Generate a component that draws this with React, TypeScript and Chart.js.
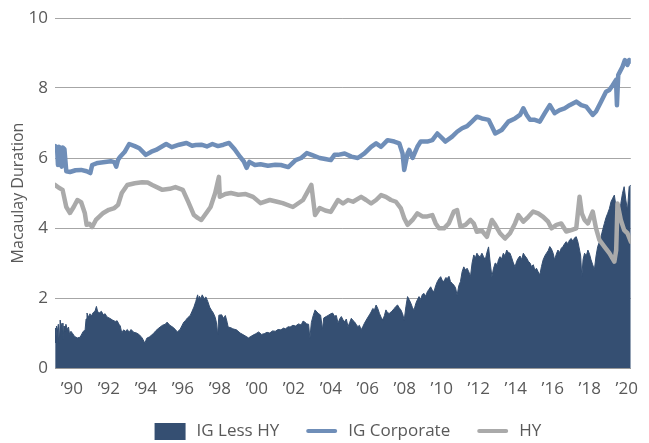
import React, { useEffect, useRef } from 'react';
import { Chart, registerables } from 'chart.js';

Chart.register(...registerables);

const SERIES_LABELS = ['IG Less HY', 'IG Corporate', 'HY'];
const X_TICKS = [1990, 1992, 1994, 1996, 1998, 2000, 2002, 2004, 2006, 2008, 2010, 2012, 2014, 2016, 2018, 2020];
const Y_TICKS = [0, 2, 4, 6, 8, 10];
const Y_TITLE = 'Macaulay Duration';

const igYears = [
  1989.1, 1989.2, 1989.25, 1989.3, 1989.4, 1989.45, 1989.5, 1989.6, 1989.7, 1989.9,
  1990.2, 1990.5, 1990.8, 1991.0, 1991.1, 1991.4, 1991.7, 1992.1, 1992.3, 1992.4,
  1992.5, 1992.6, 1992.85, 1993.1, 1993.4, 1993.65, 1994.0, 1994.3, 1994.55, 1995.1,
  1995.4, 1995.8, 1996.2, 1996.5, 1996.7, 1997.0, 1997.3, 1997.6, 1997.9, 1998.2,
  1998.5, 1998.8, 1999.1, 1999.3, 1999.45, 1999.6, 1999.9, 2000.2, 2000.6, 2001.0,
  2001.3, 2001.7, 2002.1, 2002.4, 2002.7, 2003.0, 2003.4, 2003.7, 2004.0, 2004.2,
  2004.39, 2004.75, 2005.11, 2005.46, 2005.82, 2006.18, 2006.45, 2006.72, 2007.07, 2007.43,
  2007.7, 2007.88, 2007.97, 2008.15, 2008.24, 2008.42, 2008.68, 2008.86, 2009.22, 2009.49,
  2009.76, 2010.03, 2010.2, 2010.56, 2010.83, 2011.1, 2011.37, 2011.63, 2011.9, 2012.17,
  2012.35, 2012.53, 2012.71, 2012.89, 2013.24, 2013.6, 2013.96, 2014.23, 2014.41, 2014.59,
  2014.77, 2015.03, 2015.3, 2015.57, 2015.84, 2016.1, 2016.37, 2016.64, 2016.91, 2017.27,
  2017.54, 2017.81, 2018.16, 2018.34, 2018.61, 2018.88, 2019.06, 2019.24, 2019.42, 2019.47,
  2019.54, 2019.77, 2019.9, 2020.04, 2020.13, 2020.22,
];
const igValues = [
  6.34, 6.30, 5.80, 6.32, 6.28, 5.75, 6.30, 6.25, 5.62, 5.60,
  5.65, 5.66, 5.62, 5.57, 5.80, 5.86, 5.88, 5.91, 5.88, 5.75,
  5.95, 6.03, 6.17, 6.40, 6.34, 6.28, 6.09, 6.18, 6.23, 6.40,
  6.31, 6.38, 6.43, 6.35, 6.37, 6.38, 6.33, 6.40, 6.34, 6.38,
  6.43, 6.25, 6.03, 5.90, 5.72, 5.89, 5.80, 5.82, 5.78, 5.81,
  5.80, 5.74, 5.94, 6.00, 6.14, 6.08, 6.00, 5.97, 5.94, 6.09,
  6.09, 6.13, 6.04, 6.00, 6.13, 6.32, 6.42, 6.32, 6.51, 6.47,
  6.42, 6.13, 5.66, 6.13, 6.23, 6.00, 6.32, 6.47, 6.47, 6.51,
  6.70, 6.56, 6.47, 6.61, 6.75, 6.85, 6.91, 7.04, 7.18, 7.13,
  7.11, 7.09, 6.90, 6.70, 6.80, 7.04, 7.13, 7.23, 7.42, 7.23,
  7.09, 7.09, 7.04, 7.28, 7.51, 7.28, 7.37, 7.42, 7.51, 7.61,
  7.51, 7.47, 7.23, 7.33, 7.61, 7.89, 7.94, 8.08, 8.23, 7.51,
  8.37, 8.61, 8.80, 8.66, 8.80, 8.76,
];

const hyYears = [
  1989.1, 1989.3, 1989.5, 1989.7, 1989.9, 1990.1, 1990.3, 1990.5, 1990.7, 1990.8,
  1990.95, 1991.1, 1991.3, 1991.7, 1992.0, 1992.3, 1992.5, 1992.7, 1993.0, 1993.4,
  1993.8, 1994.1, 1994.35, 1994.9, 1995.3, 1995.6, 1996.0, 1996.3, 1996.6, 1996.8,
  1997.0, 1997.3, 1997.5, 1997.75, 1997.95, 1998.0, 1998.3, 1998.6, 1999.0, 1999.4,
  1999.8, 2000.2, 2000.7, 2001.1, 2001.4, 2001.95, 2002.5, 2002.8, 2002.95, 2003.15,
  2003.4, 2003.7, 2004.0, 2004.39, 2004.66, 2004.93, 2005.2, 2005.64, 2005.91, 2006.18,
  2006.45, 2006.72, 2006.98, 2007.25, 2007.52, 2007.79, 2007.97, 2008.15, 2008.42, 2008.68,
  2008.95, 2009.22, 2009.49, 2009.67, 2009.85, 2010.12, 2010.38, 2010.65, 2010.83, 2011.01,
  2011.28, 2011.55, 2011.73, 2011.9, 2012.17, 2012.44, 2012.71, 2012.89, 2013.15, 2013.42,
  2013.69, 2013.96, 2014.14, 2014.41, 2014.68, 2014.94, 2015.21, 2015.48, 2015.75, 2015.93,
  2016.2, 2016.46, 2016.73, 2017.0, 2017.27, 2017.45, 2017.57, 2017.72, 2017.9, 2018.16,
  2018.34, 2018.52, 2018.79, 2019.06, 2019.33, 2019.43, 2019.5, 2019.68, 2019.86, 2020.04,
  2020.22,
];
const hyValues = [
  5.23, 5.15, 5.09, 4.60, 4.43, 4.60, 4.80, 4.74, 4.43, 4.09,
  4.12, 4.03, 4.23, 4.43, 4.52, 4.57, 4.66, 5.00, 5.23, 5.28,
  5.31, 5.30, 5.23, 5.09, 5.12, 5.17, 5.09, 4.74, 4.37, 4.29,
  4.23, 4.45, 4.60, 5.00, 5.46, 4.89, 4.97, 5.00, 4.95, 4.97,
  4.89, 4.71, 4.80, 4.75, 4.71, 4.60, 4.80, 5.09, 5.23, 4.37,
  4.57, 4.50, 4.46, 4.80, 4.70, 4.80, 4.75, 4.89, 4.80, 4.70,
  4.80, 4.94, 4.89, 4.80, 4.75, 4.56, 4.28, 4.09, 4.23, 4.42,
  4.33, 4.33, 4.37, 4.13, 3.99, 3.99, 4.13, 4.47, 4.51, 4.04,
  4.09, 4.23, 4.13, 3.89, 3.92, 3.75, 4.23, 4.09, 3.85, 3.70,
  3.85, 4.13, 4.37, 4.18, 4.32, 4.47, 4.42, 4.32, 4.18, 3.99,
  4.09, 4.13, 3.90, 3.94, 3.99, 4.89, 4.42, 4.23, 4.13, 4.47,
  3.99, 3.66, 3.47, 3.28, 3.04, 3.37, 4.70, 4.23, 3.94, 3.85,
  3.61,
];

const diffYears = [
  1989.1, 1989.13, 1989.17, 1989.22, 1989.27, 1989.32, 1989.37, 1989.42, 1989.47, 1989.52,
  1989.58, 1989.63, 1989.68, 1989.75, 1989.82, 1989.88, 1989.95, 1990.05, 1990.15, 1990.3,
  1990.45, 1990.6, 1990.72, 1990.77, 1990.82, 1990.9, 1990.98, 1991.05, 1991.15, 1991.25,
  1991.33, 1991.4, 1991.5, 1991.6, 1991.7, 1991.8, 1991.9, 1992.05, 1992.2, 1992.35,
  1992.45, 1992.55, 1992.62, 1992.7, 1992.8, 1992.9, 1993.0, 1993.1, 1993.2, 1993.35,
  1993.5, 1993.65, 1993.8, 1993.95, 1994.05, 1994.2, 1994.4, 1994.55, 1994.7, 1994.9,
  1995.05, 1995.15, 1995.3, 1995.45, 1995.6, 1995.7, 1995.85, 1996.05, 1996.15, 1996.25,
  1996.4, 1996.5, 1996.6, 1996.7, 1996.8, 1996.85, 1996.9, 1996.97, 1997.05, 1997.15,
  1997.25, 1997.35, 1997.45, 1997.55, 1997.65, 1997.75, 1997.82, 1997.88, 1997.95, 1998.1,
  1998.2, 1998.3, 1998.4, 1998.45, 1998.6, 1998.7, 1998.9, 1999.1, 1999.3, 1999.55,
  1999.8, 1999.95, 2000.1, 2000.25, 2000.4, 2000.55, 2000.7, 2000.85, 2001.0, 2001.15,
  2001.3, 2001.45, 2001.55, 2001.7, 2001.8, 2001.95, 2002.1, 2002.25, 2002.4, 2002.5,
  2002.6, 2002.7, 2002.8, 2002.87, 2002.95, 2003.05, 2003.15, 2003.25, 2003.35, 2003.45,
  2003.55, 2003.62, 2003.75, 2003.85, 2004.0, 2004.1, 2004.2, 2004.3, 2004.39, 2004.48,
  2004.57, 2004.66, 2004.75, 2004.84, 2004.93, 2005.02, 2005.11, 2005.2, 2005.28, 2005.37,
  2005.46, 2005.55, 2005.64, 2005.73, 2005.82, 2005.95, 2006.09, 2006.18, 2006.27, 2006.36,
  2006.45, 2006.54, 2006.63, 2006.72, 2006.81, 2006.9, 2006.98, 2007.07, 2007.16, 2007.3,
  2007.43, 2007.52, 2007.61, 2007.7, 2007.79, 2007.88, 2007.97, 2008.06, 2008.15, 2008.24,
  2008.33, 2008.42, 2008.5, 2008.6, 2008.68, 2008.77, 2008.86, 2008.95, 2009.04, 2009.13,
  2009.22, 2009.31, 2009.4, 2009.49, 2009.58, 2009.67, 2009.76, 2009.85, 2009.94, 2010.03,
  2010.12, 2010.21, 2010.3, 2010.39, 2010.47, 2010.56, 2010.65, 2010.74, 2010.83, 2010.92,
  2011.01, 2011.1, 2011.19, 2011.28, 2011.37, 2011.46, 2011.55, 2011.64, 2011.73, 2011.82,
  2011.9, 2011.99, 2012.08, 2012.17, 2012.26, 2012.35, 2012.44, 2012.53, 2012.62, 2012.71,
  2012.8, 2012.89, 2013.0, 2013.07, 2013.15, 2013.24, 2013.33, 2013.42, 2013.51, 2013.6,
  2013.69, 2013.78, 2013.87, 2013.96, 2014.05, 2014.14, 2014.23, 2014.32, 2014.41, 2014.5,
  2014.59, 2014.68, 2014.77, 2014.85, 2014.95, 2015.03, 2015.12, 2015.21, 2015.3, 2015.39,
  2015.48, 2015.57, 2015.66, 2015.75, 2015.84, 2015.93, 2016.02, 2016.1, 2016.19, 2016.28,
  2016.37, 2016.46, 2016.55, 2016.64, 2016.73, 2016.82, 2016.91, 2017.0, 2017.09, 2017.18,
  2017.27, 2017.36, 2017.45, 2017.51, 2017.57, 2017.64, 2017.72, 2017.81, 2017.9, 2017.99,
  2018.07, 2018.16, 2018.25, 2018.34, 2018.43, 2018.52, 2018.61, 2018.7, 2018.79, 2018.88,
  2018.97, 2019.06, 2019.15, 2019.24, 2019.33, 2019.42, 2019.5, 2019.59, 2019.68, 2019.77,
  2019.86, 2019.95, 2020.04, 2020.13, 2020.22,
];
const diffValues = [
  1.14, 0.72, 1.20, 1.05, 1.25, 0.70, 1.37, 1.15, 1.28, 0.80,
  1.20, 1.05, 1.25, 1.10, 1.17, 0.95, 1.05, 0.98, 0.90, 0.86,
  0.88, 1.03, 1.10, 1.40, 1.57, 1.45, 1.55, 1.48, 1.58, 1.62,
  1.76, 1.60, 1.58, 1.62, 1.52, 1.55, 1.46, 1.42, 1.37, 1.33,
  1.35, 1.25, 1.20, 1.00, 1.09, 1.05, 1.10, 1.02, 1.10, 1.02,
  1.00, 0.95, 0.86, 0.71, 0.85, 0.89, 0.98, 1.07, 1.14, 1.22,
  1.25, 1.31, 1.22, 1.17, 1.10, 1.03, 1.10, 1.31, 1.36, 1.43,
  1.50, 1.62, 1.74, 1.90, 2.09, 1.95, 2.05, 1.98, 2.09, 1.98,
  2.03, 1.90, 1.74, 1.65, 1.57, 1.45, 1.29, 0.95, 1.51, 1.52,
  1.42, 1.50, 1.30, 1.17, 1.15, 1.12, 1.09, 1.00, 0.94, 0.86,
  0.94, 0.98, 1.03, 0.96, 0.98, 1.02, 1.00, 1.06, 1.05, 1.10,
  1.09, 1.14, 1.12, 1.18, 1.17, 1.22, 1.20, 1.26, 1.23, 1.34,
  1.31, 1.26, 1.25, 0.85, 1.30, 1.50, 1.66, 1.60, 1.55, 1.51,
  1.10, 1.43, 1.47, 1.50, 1.55, 1.57, 1.48, 1.50, 1.28, 1.40,
  1.47, 1.38, 1.32, 1.40, 1.18, 1.30, 1.42, 1.36, 1.32, 1.25,
  1.18, 1.22, 1.09, 1.18, 1.28, 1.40, 1.52, 1.60, 1.70, 1.66,
  1.80, 1.70, 1.56, 1.45, 1.37, 1.50, 1.66, 1.58, 1.56, 1.62,
  1.70, 1.76, 1.80, 1.72, 1.66, 1.55, 1.37, 1.75, 2.04, 1.95,
  1.85, 1.72, 1.66, 1.85, 1.95, 2.04, 1.96, 2.10, 2.13, 2.05,
  2.18, 2.25, 2.32, 2.22, 2.18, 2.35, 2.47, 2.55, 2.61, 2.50,
  2.47, 2.58, 2.56, 2.62, 2.47, 2.42, 2.37, 2.30, 2.08, 2.35,
  2.47, 2.75, 2.89, 2.80, 2.85, 2.75, 2.61, 3.00, 3.23, 3.15,
  3.28, 3.20, 3.18, 3.28, 3.18, 3.09, 3.30, 3.46, 3.00, 2.61,
  2.85, 3.00, 2.95, 3.10, 3.18, 3.12, 3.28, 3.20, 3.37, 3.30,
  3.28, 3.15, 3.00, 2.89, 3.05, 3.14, 3.20, 3.10, 3.28, 3.20,
  3.14, 3.05, 3.00, 2.90, 2.95, 2.80, 2.85, 2.75, 2.66, 2.90,
  3.09, 3.20, 3.28, 3.35, 3.47, 3.40, 3.28, 3.09, 3.25, 3.37,
  3.30, 3.42, 3.47, 3.55, 3.61, 3.55, 3.66, 3.70, 3.62, 3.72,
  3.75, 3.60, 3.37, 3.20, 2.61, 3.10, 3.28, 3.20, 3.37, 3.25,
  3.09, 2.95, 2.81, 3.20, 3.47, 3.60, 3.75, 3.95, 4.13, 4.30,
  4.42, 4.55, 4.75, 4.85, 4.94, 4.61, 3.28, 4.23, 4.70, 4.99,
  5.18, 4.80, 4.51, 5.18, 5.23,
];

const NAVY = '#354f72';
const BLUE = '#6f8eb8';
const GRAY = '#aaaaaa';
const TEXT = '#595959';
const FONT = '"Open Sans", "Noto Sans", sans-serif';

const toPoints = (xs: number[], ys: number[]) => xs.map((x, i) => ({ x, y: ys[i] }));

const bottomLegend = {
  id: 'bottomLegend',
  afterDraw(chart: any) {
    const ctx = chart.ctx as CanvasRenderingContext2D;
    const datasets = chart.data.datasets;
    const area = chart.chartArea;
    ctx.save();
    ctx.font = `17px ${FONT}`;
    const box = 31;
    const gap = 11;
    const spacing = 27;
    const widths = datasets.map((d: any) => box + gap + ctx.measureText(d.label).width);
    const total = widths.reduce((a: number, b: number) => a + b, 0) + spacing * (datasets.length - 1);
    let x = (area.left + area.right) / 2 + 5 - total / 2;
    const y = area.bottom + 63;
    datasets.forEach((d: any, i: number) => {
      if (d.fill) {
        ctx.fillStyle = d.backgroundColor;
        ctx.fillRect(x, y - 8, box, 17);
      } else {
        ctx.strokeStyle = d.borderColor;
        ctx.lineWidth = 4;
        ctx.lineCap = 'round';
        ctx.beginPath();
        ctx.moveTo(x + 2, y);
        ctx.lineTo(x + box - 2, y);
        ctx.stroke();
      }
      ctx.fillStyle = TEXT;
      ctx.textAlign = 'left';
      ctx.textBaseline = 'middle';
      ctx.fillText(d.label, x + box + gap, y);
      x += widths[i] + spacing;
    });
    ctx.restore();
  },
};

export default function App() {
  const canvasRef = useRef<HTMLCanvasElement | null>(null);

  useEffect(() => {
    document.body.style.margin = '0';
    const canvas = canvasRef.current;
    if (!canvas) return;
    const chart = new Chart(canvas, {
      type: 'line',
      data: {
        datasets: [
          {
            label: SERIES_LABELS[0],
            data: toPoints(diffYears, diffValues),
            backgroundColor: NAVY,
            borderColor: NAVY,
            borderWidth: 1,
            fill: 'origin',
            pointRadius: 0,
            tension: 0,
            order: 3,
          },
          {
            label: SERIES_LABELS[1],
            data: toPoints(igYears, igValues),
            borderColor: BLUE,
            backgroundColor: BLUE,
            borderWidth: 4.5,
            fill: false,
            pointRadius: 0,
            tension: 0,
            borderJoinStyle: 'round',
            borderCapStyle: 'round',
            order: 1,
          },
          {
            label: SERIES_LABELS[2],
            data: toPoints(hyYears, hyValues),
            borderColor: GRAY,
            backgroundColor: GRAY,
            borderWidth: 4.5,
            fill: false,
            pointRadius: 0,
            tension: 0,
            borderJoinStyle: 'round',
            borderCapStyle: 'round',
            order: 2,
          },
        ],
      },
      options: {
        responsive: false,
        animation: false,
        events: [],
        layout: { padding: { top: 18, right: 14, bottom: 45, left: 0 } },
        plugins: {
          legend: { display: false },
          tooltip: { enabled: false },
        },
        scales: {
          x: {
            type: 'linear',
            min: 1989.09,
            max: 2020.22,
            grid: { display: false, drawTicks: false },
            border: { display: true, color: '#999999', width: 1 },
            afterBuildTicks: (scale: any) => {
              scale.ticks = X_TICKS.map((v) => ({ value: v }));
            },
            afterFit: (scale: any) => {
              scale.height = 30;
            },
            ticks: {
              autoSkip: false,
              maxRotation: 0,
              padding: 11,
              color: TEXT,
              font: { family: FONT, size: 17 },
              callback: (v: any) => '\u2019' + String(v).slice(2),
            },
          },
          y: {
            min: 0,
            max: 10,
            afterBuildTicks: (scale: any) => {
              scale.ticks = Y_TICKS.map((v) => ({ value: v }));
            },
            afterFit: (scale: any) => {
              scale.width = 55;
            },
            grid: { color: '#a6a6a6', lineWidth: 1, drawTicks: false },
            border: { display: false },
            ticks: {
              padding: 7,
              color: TEXT,
              font: { family: FONT, size: 17 },
            },
            title: {
              display: true,
              text: Y_TITLE,
              color: TEXT,
              font: { family: FONT, size: 16 },
              padding: { top: 9, bottom: 0 },
            },
          },
        },
      },
      plugins: [bottomLegend],
    });
    return () => chart.destroy();
  }, []);

  return (
    <div style={{ width: 649, height: 443 }}>
      <canvas ref={canvasRef} width={649} height={443} />
    </div>
  );
}
